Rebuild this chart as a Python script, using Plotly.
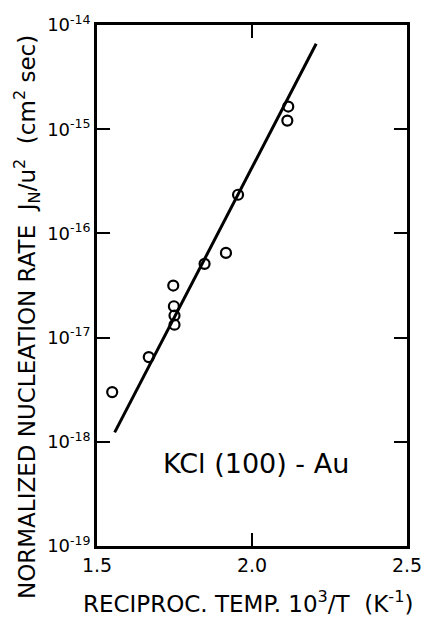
import plotly.graph_objects as go

# Data
recip_temp = [1.549, 1.667, 1.746, 1.748, 1.750, 1.750, 1.847, 1.916, 1.955, 2.114, 2.117]
norm_rate = [3.0e-18, 6.5e-18, 3.16e-17, 2.0e-17, 1.63e-17, 1.33e-17, 5.1e-17, 6.5e-17, 2.35e-16, 1.21e-15, 1.65e-15]

fit_x = [1.557, 2.207]
fit_y = [1.23e-18, 6.6e-15]

x_ticks = [1.5, 2.0, 2.5]
x_ticklabels = ["1.5", "2.0", "2.5"]
y_ticks = [1e-19, 1e-18, 1e-17, 1e-16, 1e-15, 1e-14]
y_ticklabels = ["10<sup>-19</sup>", "10<sup>-18</sup>", "10<sup>-17</sup>",
                "10<sup>-16</sup>", "10<sup>-15</sup>", "10<sup>-14</sup>"]

FONT = "DejaVu Sans"

fig = go.Figure()
fig.add_trace(go.Scatter(x=fit_x, y=fit_y, mode="lines",
                         line=dict(color="black", width=3), showlegend=False))
fig.add_trace(go.Scatter(x=recip_temp, y=norm_rate, mode="markers",
                         marker=dict(symbol="circle-open", size=10, color="black",
                                     line=dict(width=2.2, color="black")),
                         showlegend=False))

fig.update_layout(
    width=434, height=618,
    margin=dict(l=97, r=19, t=21, b=72),
    paper_bgcolor="white", plot_bgcolor="white",
    font=dict(family=FONT, color="black"),
    xaxis=dict(range=[1.5, 2.5], tickvals=x_ticks, ticktext=x_ticklabels,
               ticks="inside", ticklen=13, tickwidth=2, tickcolor="black",
               showline=True, linecolor="black", linewidth=2.5, mirror="ticks",
               showgrid=False, zeroline=False, tickfont=dict(size=19, family=FONT)),
    yaxis=dict(type="log", range=[-19, -14], tickvals=y_ticks, ticktext=y_ticklabels,
               ticks="inside", ticklen=13, tickwidth=2, tickcolor="black",
               showline=True, linecolor="black", linewidth=2.5, mirror="ticks",
               showgrid=False, zeroline=False, tickfont=dict(size=18, family=FONT)),
    annotations=[
        dict(text="RECIPROC. TEMP. 10<sup>3</sup>/T  (K<sup>-1</sup>)",
             xref="paper", yref="paper", x=0.487, y=-0.107,
             showarrow=False, font=dict(size=23, family=FONT), xanchor="center", yanchor="middle"),
        dict(text="NORMALIZED NUCLEATION RATE  J<sub>N</sub>/u<sup>2</sup>  (cm<sup>2</sup> sec)",
             xref="paper", yref="paper", x=-0.225, y=0.44, textangle=-90,
             showarrow=False, font=dict(size=23, family=FONT), xanchor="center", yanchor="middle"),
        dict(text="KCl (100) - Au", x=2.013, y=-18.21, xref="x", yref="y",
             showarrow=False, font=dict(size=27, family=FONT), xanchor="center", yanchor="middle"),
    ],
)

fig.write_html("out.html")
